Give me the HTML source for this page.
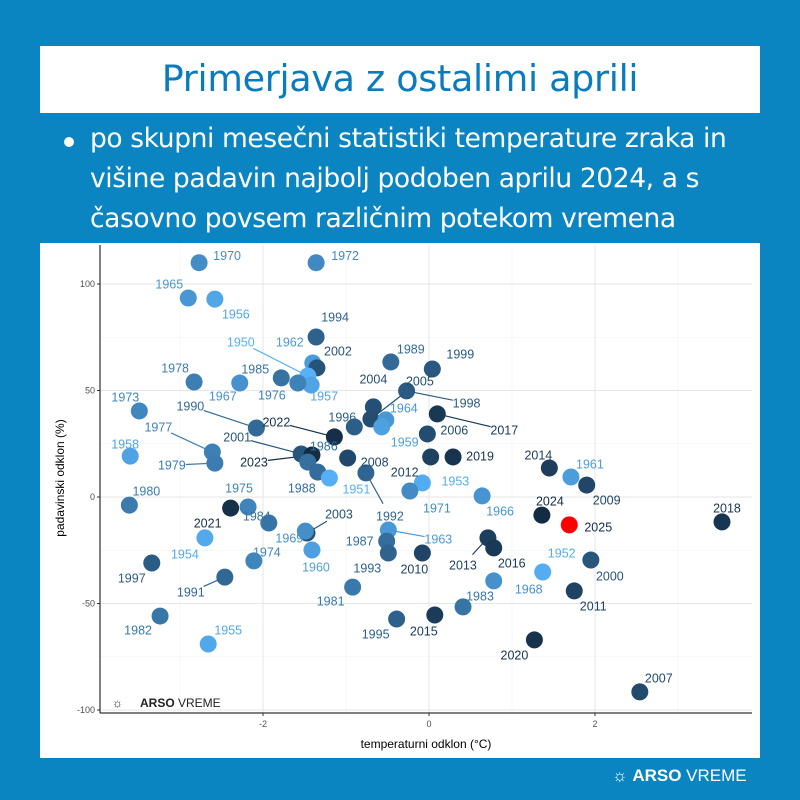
<!DOCTYPE html>
<html><head><meta charset="utf-8">
<style>
html,body{margin:0;padding:0;background:#0a85c2;}
#wrap{position:relative;width:800px;height:800px;background:#0a85c2;overflow:hidden;font-family:"Liberation Sans","DejaVu Sans",sans-serif;}
#title-box{position:absolute;left:40px;top:46px;width:720px;height:67px;background:#fff;}
#title{position:absolute;left:0;right:0;top:11px;text-align:center;color:#0a7cbd;font-size:36.5px;font-family:"DejaVu Sans","Liberation Sans",sans-serif;letter-spacing:-0.3px;}
#bullet{position:absolute;left:90px;top:119px;width:710px;color:#fff;font-size:26.5px;line-height:40px;font-family:"DejaVu Sans","Liberation Sans",sans-serif;letter-spacing:-0.4px;white-space:nowrap;}
#dot{position:absolute;left:64px;top:137px;width:10px;height:10px;border-radius:50%;background:#fff;}
#chart{position:absolute;left:0;top:0;}
#foot-logo{position:absolute;left:612px;top:766px;color:#fff;font-size:17px;}
</style></head>
<body>
<div id="wrap">
 <div id="title-box"><div id="title">Primerjava z ostalimi aprili</div></div>
 <div id="dot"></div>
 <div id="bullet">po skupni mesečni statistiki temperature zraka in<br>višine padavin najbolj podoben aprilu 2024, a s<br>časovno povsem različnim potekom vremena</div>
 <svg id="chart" width="800" height="800"></svg>
 <div id="foot-logo">☼ <b>ARSO</b> VREME</div>
</div>
<script>
const years=[1970,1972,1965,1956,1994,1962,2002,1950,1957,1989,1999,1978,1967,1985,1976,2004,1998,2005,1964,1959,1973,1990,2022,1996,2017,2006,1958,1977,1979,2001,2023,1986,1988,1951,2008,1992,2012,2019,1953,1971,1966,2014,1961,2009,2024,2025,2018,1980,2021,1975,1984,2003,1960,1969,1954,1974,1963,1987,1993,2010,2013,2016,1952,2000,1968,1997,1991,1981,1983,2011,1982,1955,1995,2015,2020,2007];
const tempAnom=[-2.77,-1.36,-2.90,-2.58,-1.36,-1.40,-1.35,-1.46,-1.42,-0.46,0.04,-2.83,-2.28,-1.78,-1.58,-0.67,-0.27,-0.70,-0.52,-0.57,-3.49,-2.08,-1.14,-0.90,0.10,-0.02,-3.60,-2.61,-2.58,-1.54,-1.41,-1.46,-1.34,-1.20,-0.98,-0.76,0.02,0.29,-0.08,-0.23,0.64,1.45,1.71,1.90,1.36,1.69,3.53,-3.61,-2.39,-2.18,-1.93,-1.47,-1.41,-1.49,-2.70,-2.11,-0.49,-0.51,-0.49,-0.08,0.71,0.78,1.37,1.95,0.78,-3.34,-2.46,-0.92,0.41,1.75,-3.24,-2.66,-0.39,0.07,1.27,2.54];
const precAnom=[110,110,93.4,92.9,75.1,62.9,60.6,56.8,52.6,63.4,60.1,54.0,53.5,55.9,53.5,42.3,49.8,36.6,36.2,32.9,40.4,32.4,28.2,32.9,39.0,29.6,19.2,21.1,15.9,20.2,19.7,16.4,11.7,8.9,18.3,11.3,18.8,18.8,6.6,2.8,0.5,13.6,9.4,5.6,-8.5,-13.1,-11.7,-3.8,-5.2,-4.7,-12.2,-16.9,-24.9,-16.0,-19.2,-30.0,-15.5,-20.7,-26.3,-26.3,-19.2,-23.9,-35.2,-29.6,-39.4,-31.0,-37.6,-42.3,-51.6,-44.1,-55.9,-69.0,-57.3,-55.4,-67.1,-91.5];
const xTicks=[-2,0,2];
const yTicks=[-100,-50,0,50,100];
// label placement offsets (style, not data)
const lblDx=[28,29,-19,21,19,-23,21,-67,13,20,28,-19,-17,-26,-26,0,60,49,18,23,-14,-66,-58,-12,67,27,-5,-54,-43,-64,-58,16,-16,27,27,24,-26,27,33,27,18,-11,19,20,8,29,5,17,-23,-9,-12,32,4,-16,-20,13,50,-27,-21,-8,-25,18,19,19,35,-20,-34,-22,17,19,-22,20,-21,-11,-20,19];
const lblDy=[-7,-7,-14,15,-20,-21,-17,-34,11,-13,-15,-14,13,-9,12,-28,12,-38,-12,15,-14,-22,-15,-10,16,-4,-12,-25,2,-17,7,-16,16,11,4,43,15,-1,-2,17,15,-13,-13,15,-14,2,-14,-14,15,-19,-7,-19,17,7,16,-9,9,0,15,16,27,15,-19,16,8,15,15,14,-11,15,14,-14,15,16,15,-14];

const svg=document.getElementById('chart');
const NS='http://www.w3.org/2000/svg';
const PL=100,PR=752,PT=245,PB=713;
function sx(v){return 429+v*83;}
function sy(v){return 497-v*2.13;}
function mk(tag,attrs,parent){const e=document.createElementNS(NS,tag);for(const k in attrs)e.setAttribute(k,attrs[k]);(parent||svg).appendChild(e);return e;}
function hex(c){return [parseInt(c.slice(1,3),16),parseInt(c.slice(3,5),16),parseInt(c.slice(5,7),16)];}
const cA=hex('#56B1F7'),cB=hex('#132B43');
function col(y){if(y===2025)return '#ff0000';const t=Math.max(0,Math.min(1,(y-1950)/74));return 'rgb('+cA.map((a,i)=>Math.round(a+(cB[i]-a)*t)).join(',')+')';}

const bg=mk('rect',{x:40,y:243,width:720,height:515,fill:'#fff'});


const grid=mk('g',{});


[-3,-1,1,3].forEach(v=>{mk('line',{x1:sx(v),x2:sx(v),y1:PT,y2:PB,stroke:'#f2f2f2','stroke-width':0.6},grid);});
[-75,-25,25,75].forEach(v=>{mk('line',{x1:PL,x2:PR,y1:sy(v),y2:sy(v),stroke:'#f2f2f2','stroke-width':0.6},grid);});
xTicks.forEach(v=>{mk('line',{x1:sx(v),x2:sx(v),y1:PT,y2:PB,stroke:'#e6e6e6','stroke-width':1.1},grid);});
yTicks.forEach(v=>{mk('line',{x1:PL,x2:PR,y1:sy(v),y2:sy(v),stroke:'#e6e6e6','stroke-width':1.1},grid);});
const ax=mk('g',{});


mk('line',{x1:PL,x2:PL,y1:PT,y2:PB,stroke:'#000','stroke-width':1},ax);
mk('line',{x1:PL,x2:PR,y1:PB,y2:PB,stroke:'#000','stroke-width':1},ax);
xTicks.forEach(v=>{
 mk('line',{x1:sx(v),x2:sx(v),y1:PB,y2:PB+3,stroke:'#333'},ax);
 const t=mk('text',{x:sx(v),y:PB+14,'text-anchor':'middle','font-size':9,fill:'#4d4d4d'},ax);t.textContent=v;
 
 
});
yTicks.forEach(v=>{
 mk('line',{x1:PL-3,x2:PL,y1:sy(v),y2:sy(v),stroke:'#333'},ax);
 const t=mk('text',{x:PL-5,y:sy(v)+3,'text-anchor':'end','font-size':9,fill:'#4d4d4d'},ax);t.textContent=v;
 
 
});
const xt=mk('text',{x:426,y:748,'text-anchor':'middle','font-size':12,fill:'#000'});xt.textContent='temperaturni odklon (°C)';


const yt=mk('text',{x:0,y:0,'text-anchor':'middle','font-size':12,fill:'#000',transform:'translate(64,478) rotate(-90)'});yt.textContent='padavinski odklon (%)';


const lines=mk('g',{});


years.forEach((y,i)=>{
 const px=sx(tempAnom[i]),py=sy(precAnom[i]);
 const d=Math.hypot(lblDx[i],lblDy[i]);
 if(d>36){const f=(d-14)/d;mk('line',{x1:px,y1:py,x2:px+lblDx[i]*f,y2:py+lblDy[i]*f,stroke:col(y),'stroke-width':1.2},lines);}
});
const pts=mk('g',{});


years.forEach((y,i)=>{
 const c=mk('circle',{cx:sx(tempAnom[i]),cy:sy(precAnom[i]),r:8.5,fill:col(y)},pts);
 
 
});
const lbs=mk('g',{});


years.forEach((y,i)=>{
 const t=mk('text',{x:sx(tempAnom[i])+lblDx[i],y:sy(precAnom[i])+lblDy[i]+4.5,'text-anchor':'middle','font-size':12.5,fill:y===2025?'#132B43':col(y)},lbs);
 t.textContent=y;
 
 
});
const lg=mk('text',{x:112,y:707,'font-size':12,fill:'#222'});


lg.innerHTML='☼ <tspan x="140" font-weight="bold">ARSO</tspan> VREME';
</script>
</body></html>
